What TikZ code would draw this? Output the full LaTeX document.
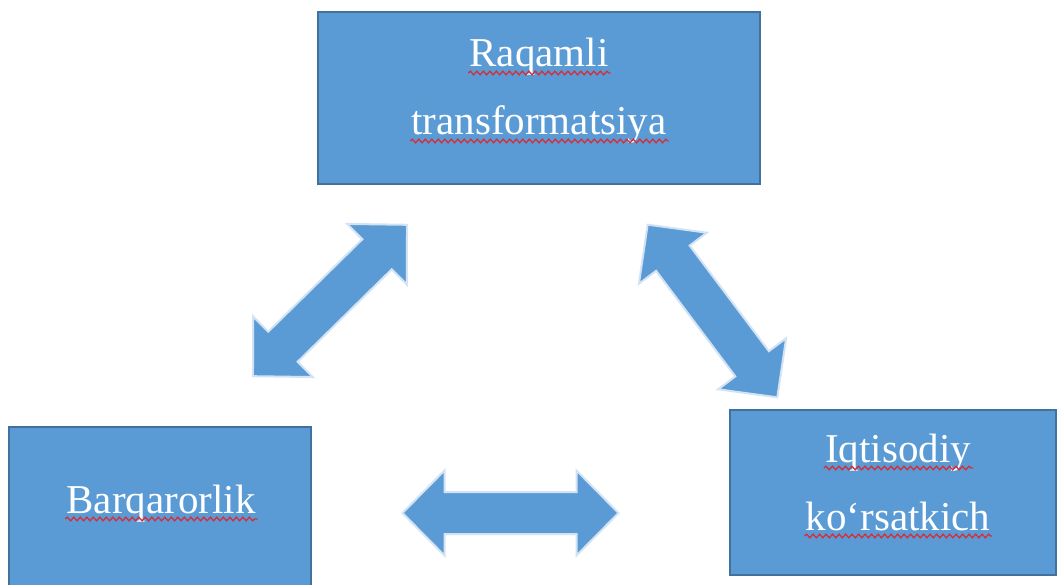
\documentclass[tikz,border=0pt]{standalone}
\usepackage{fontspec}
\setmainfont{Liberation Serif}
\usetikzlibrary{decorations.pathmorphing}
\definecolor{officeblue}{HTML}{5B9BD5}
\definecolor{boxedge}{HTML}{41719C}
\definecolor{glow}{HTML}{D3E3F4}
\definecolor{squigred}{HTML}{D2303A}
\tikzset{
  box/.style={rectangle, fill=officeblue, draw=boxedge, line width=2pt, inner sep=0pt},
  word/.style={inner sep=0pt, anchor=base, text=white, font=\fontsize{41}{68}\selectfont},
  squig/.style={draw=squigred, line width=1.3pt, decorate, decoration={snake, amplitude=1.8pt, segment length=6.5pt}},
  arrowbody/.style={fill=officeblue, draw=glow, line width=2pt, line join=miter},
  dblarrow/.pic={
    \path[arrowbody] (108,0) -- (66,42.5) -- (66,21) -- (-66,21) -- (-66,42.5) -- (-108,0)
      -- (-66,-42.5) -- (-66,-21) -- (66,-21) -- (66,-42.5) -- cycle;
  }
}
\begin{document}
\begin{tikzpicture}[x=1pt, y=1pt]
\useasboundingbox (0,0) rectangle (1058,-585);
\begin{scope}
\clip (0,0) rectangle (1058,-585);
% boxes
\node[box, minimum width=442pt, minimum height=172pt] (top) at (539,-98) {};
\node[box, minimum width=302pt, minimum height=200pt] (left) at (160,-527) {};
\node[box, minimum width=326pt, minimum height=165pt] (right) at (893,-492.5) {};
% texts
\node[word] (t1) at (539,-67) {Raqamli};
\node[word] (t2) at (539,-135) {transformatsiya};
\node[word] (l1) at (161,-513) {Barqarorlik};
\node[word] (r1) at (898,-462) {Iqtisodiy};
\node[word] (r2) at (898,-530) {ko‘rsatkich};
% spell-check underlines
\foreach \w in {t1,t2,l1,r1,r2}{
  \draw[squig] ([xshift=-1pt,yshift=-6pt]\w.base west) -- ([xshift=2pt,yshift=-6pt]\w.base east);
}
% block arrows
\pic[rotate=44.5] at (330,-300.5) {dblarrow};
\pic[rotate=126.9] at (712.5,-311) {dblarrow};
\pic at (510.5,-513) {dblarrow};
\end{scope}
\end{tikzpicture}
\end{document}
